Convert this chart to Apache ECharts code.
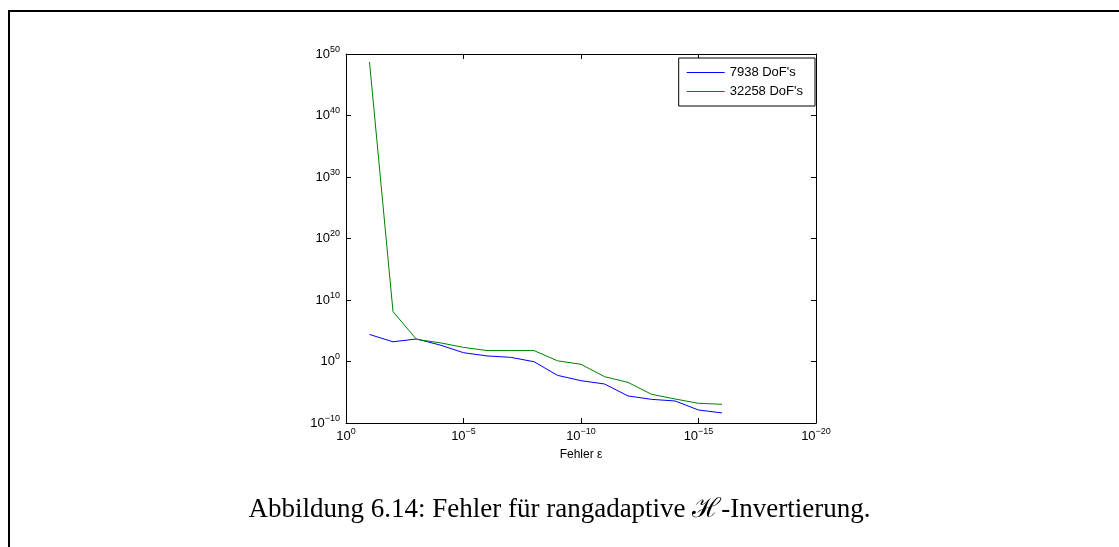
<!DOCTYPE html>
<html>
<head>
<meta charset="utf-8">
<script src="https://cdn.jsdelivr.net/npm/echarts@6/dist/echarts.min.js"></script>
<style>
  html, body { margin: 0; padding: 0; background: #fff; }
  #chart { width: 1119px; height: 547px; }
</style>
</head>
<body>
<div id="chart"></div>
<script>
// Tolerance epsilon (x) and resulting error (y) for two problem sizes
const epsValues = [1e-1, 1e-2, 1e-3, 1e-4, 1e-5, 1e-6, 1e-7, 1e-8,
                   1e-9, 1e-10, 1e-11, 1e-12, 1e-13, 1e-14, 1e-15, 1e-16];
const err7938 = [2.5e4, 1.6e3, 4.6e3, 480, 27, 8, 4.8, 0.93,
                 5.6e-3, 7.6e-4, 2.2e-4, 2.5e-6, 7e-7, 3.8e-7, 1.3e-8, 4.3e-9];
const err32258 = [5e48, 1.3e8, 4e3, 1.1e3, 200, 60, 60, 60,
                  1.3, 0.35, 3.4e-3, 4e-4, 4.7e-6, 8e-7, 1.6e-7, 1.1e-7];
const seriesNames = ["7938 DoF's", "32258 DoF's"];
const xAxisTitle = 'Fehler \u03b5';
const captionText = 'Abbildung 6.14: Fehler f\u00fcr rangadaptive \u210B-Invertierung.';

const toPairs = (xs, ys) => xs.map((x, i) => [x, ys[i]]);

// "10" with superscript exponent
function powLabel(v) {
  const e = Math.round(Math.log10(v));
  const exp = e < 0 ? '\u2212' + Math.abs(e) : String(e);
  return '{b|10}{s|' + exp + '}';
}

const labelRich = {
  b: { fontFamily: 'Liberation Sans', fontSize: 13, color: '#000', lineHeight: 18 },
  s: { fontFamily: 'Liberation Sans', fontSize: 9, color: '#000', verticalAlign: 'top', lineHeight: 9 }
};

const frameLine = { show: true, lineStyle: { color: '#000', width: 1 } };
const innerTick = { show: true, inside: true, length: 5, lineStyle: { color: '#000', width: 1 } };

const chart = echarts.init(document.getElementById('chart'), null, { renderer: 'canvas' });

chart.setOption({
  animation: false,
  backgroundColor: '#fff',
  grid: { left: 346, top: 54, width: 470, height: 369, containLabel: false },
  legend: {
    data: seriesNames,
    orient: 'vertical',
    right: 304,
    top: 58,
    icon: 'rect',
    backgroundColor: '#fff',
    borderColor: '#000',
    borderWidth: 1,
    borderRadius: 0,
    padding: [7, 12, 7, 8],
    itemWidth: 38,
    itemHeight: 1,
    itemGap: 4,
    textStyle: { fontFamily: 'Liberation Sans', fontSize: 13, color: '#000', lineHeight: 15 }
  },
  xAxis: [
    {
      type: 'log', logBase: 10, inverse: true,
      min: 1e-20, max: 1, interval: 5,
      name: xAxisTitle, nameLocation: 'middle', nameGap: 26,
      nameTextStyle: { fontFamily: 'Liberation Sans', fontSize: 12, color: '#000' },
      axisLine: frameLine, axisTick: innerTick,
      axisLabel: { formatter: powLabel, rich: labelRich, margin: 4 },
      splitLine: { show: false }, minorTick: { show: false }
    },
    {
      type: 'log', logBase: 10, inverse: true, position: 'top',
      min: 1e-20, max: 1, interval: 5,
      axisLine: frameLine, axisTick: innerTick,
      axisLabel: { show: false }, splitLine: { show: false }
    }
  ],
  yAxis: [
    {
      type: 'log', logBase: 10,
      min: 1e-10, max: 1e50, interval: 10,
      axisLine: frameLine, axisTick: innerTick,
      axisLabel: { formatter: powLabel, rich: labelRich, margin: 6 },
      splitLine: { show: false }
    },
    {
      type: 'log', logBase: 10, position: 'right',
      min: 1e-10, max: 1e50, interval: 10,
      axisLine: frameLine, axisTick: innerTick,
      axisLabel: { show: false }, splitLine: { show: false }
    }
  ],
  series: [
    {
      name: seriesNames[0], type: 'line', xAxisIndex: 0, yAxisIndex: 0,
      data: toPairs(epsValues, err7938),
      symbol: 'none', showSymbol: false,
      lineStyle: { color: '#0000ff', width: 1 }, itemStyle: { color: '#0000ff' }
    },
    {
      name: seriesNames[1], type: 'line', xAxisIndex: 0, yAxisIndex: 0,
      data: toPairs(epsValues, err32258),
      symbol: 'none', showSymbol: false,
      lineStyle: { color: '#008000', width: 1 }, itemStyle: { color: '#008000' }
    }
  ],
  graphic: [
    { type: 'line', shape: { x1: 8, y1: 11, x2: 1119, y2: 11 }, style: { stroke: '#000', lineWidth: 2 } },
    { type: 'line', shape: { x1: 9, y1: 10, x2: 9, y2: 547 }, style: { stroke: '#000', lineWidth: 2 } },
    {
      type: 'text', left: 'center', top: 496,
      style: { text: captionText, font: '27px "Liberation Serif"', fill: '#000' }
    }
  ]
});
</script>
</body>
</html>
